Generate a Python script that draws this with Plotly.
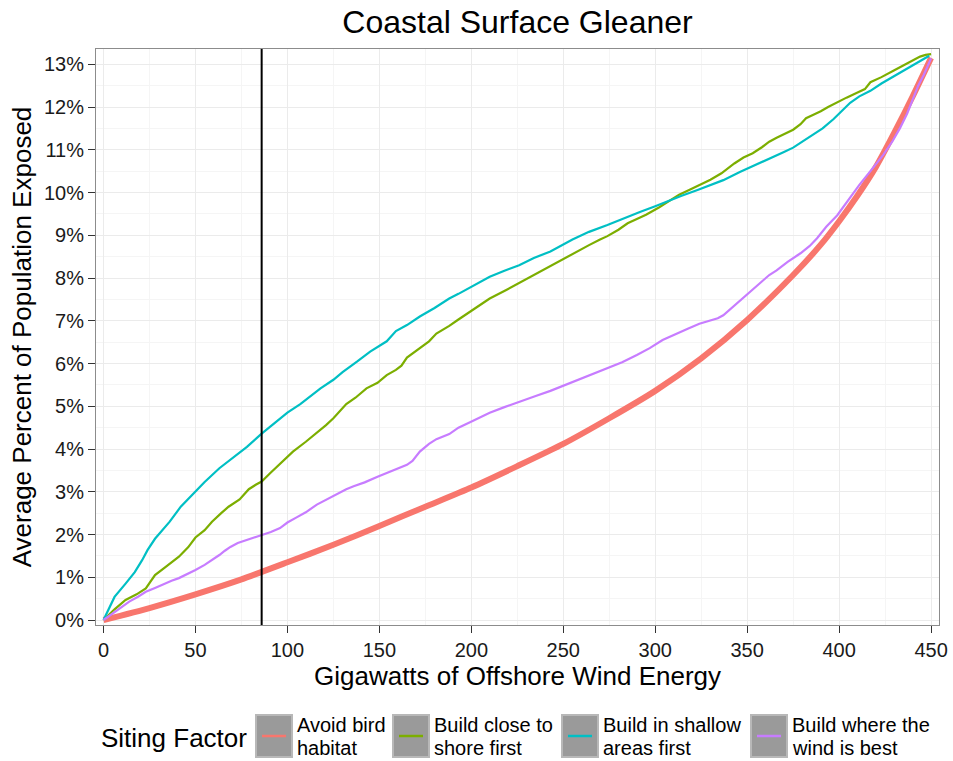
import plotly.graph_objects as go

# ---- data -------------------------------------------------------------
series_names = [
    "Avoid bird\nhabitat",
    "Build close to\nshore first",
    "Build in shallow\nareas first",
    "Build where the\nwind is best",
]

bird_gw = [0, 25, 50, 75, 100, 125, 150, 175, 200, 225, 250, 275, 300, 325,
           350, 375, 390, 400, 410, 420, 430, 440, 450]
bird_pct = [0, 0.28, 0.6, 0.95, 1.35, 1.76, 2.2, 2.65, 3.1, 3.6, 4.12, 4.72,
            5.36, 6.12, 7.02, 8.07, 8.78, 9.33, 9.93, 10.6, 11.4, 12.25, 13.15]

shore_gw = [0, 6, 12, 18, 23, 28, 34, 41, 46, 50, 55, 59, 64, 68, 74, 79, 83,
            86, 91, 96, 103, 110, 116, 121, 125, 132, 137, 143, 149, 154, 159,
            162, 165, 172, 177, 181, 188, 193, 199, 205, 210, 219, 225, 230,
            237, 243, 252, 258, 264, 270, 274, 280, 285, 290, 295, 302, 308,
            313, 319, 325, 330, 336, 339, 343, 348, 353, 358, 362, 366, 371,
            375, 379, 382, 386, 390, 394, 399, 404, 410, 414, 417, 423, 430,
            437, 444, 447, 450]
shore_pct = [0, 0.25, 0.47, 0.6, 0.74, 1.05, 1.25, 1.48, 1.7, 1.93, 2.1, 2.3,
             2.5, 2.65, 2.82, 3.06, 3.17, 3.24, 3.45, 3.66, 3.94, 4.17, 4.38,
             4.56, 4.72, 5.05, 5.2, 5.42, 5.55, 5.73, 5.85, 5.95, 6.14, 6.36,
             6.52, 6.7, 6.88, 7.03, 7.2, 7.38, 7.52, 7.72, 7.86, 7.99, 8.15,
             8.28, 8.5, 8.63, 8.77, 8.9, 8.98, 9.13, 9.28, 9.38, 9.48, 9.65,
             9.82, 9.95, 10.07, 10.2, 10.3, 10.45, 10.55, 10.68, 10.82, 10.92,
             11.06, 11.19, 11.28, 11.38, 11.47, 11.6, 11.74, 11.82, 11.9, 12.0,
             12.12, 12.22, 12.34, 12.42, 12.58, 12.7, 12.86, 13.02, 13.18,
             13.22, 13.24]

shallow_gw = [0, 6, 12, 17, 21, 24, 28, 31, 36, 42, 50, 55, 63, 70, 78, 86,
              93, 100, 107, 113, 118, 125, 130, 138, 145, 154, 159, 165, 172,
              180, 188, 193, 199, 205, 210, 218, 226, 234, 243, 255, 264, 274,
              283, 292, 300, 306, 314, 323, 330, 337, 346, 355, 362, 370, 375,
              381, 386, 391, 397, 402, 406, 411, 417, 423, 430, 435, 440, 445,
              449]
shallow_pct = [0, 0.54, 0.85, 1.12, 1.4, 1.64, 1.9, 2.06, 2.3, 2.65, 3.02,
               3.23, 3.55, 3.78, 4.05, 4.36, 4.6, 4.85, 5.05, 5.25, 5.42, 5.62,
               5.8, 6.05, 6.28, 6.52, 6.76, 6.9, 7.1, 7.3, 7.52, 7.63, 7.77,
               7.93, 8.03, 8.17, 8.3, 8.47, 8.62, 8.9, 9.08, 9.24, 9.4, 9.55,
               9.68, 9.79, 9.92, 10.06, 10.18, 10.29, 10.48, 10.65, 10.8, 10.95,
               11.05, 11.22, 11.35, 11.5, 11.72, 11.92, 12.1, 12.25, 12.38,
               12.55, 12.72, 12.86, 12.98, 13.1, 13.2]

wind_gw = [0, 7, 14, 19, 23, 28, 32, 37, 41, 46, 50, 55, 59, 63, 66, 69, 73,
           78, 82, 86, 91, 96, 100, 105, 110, 116, 121, 127, 132, 136, 142,
           149, 156, 160, 165, 168, 172, 177, 181, 188, 193, 199, 205, 210,
           218, 227, 235, 243, 250, 256, 265, 274, 282, 290, 297, 304, 310,
           318, 324, 330, 334, 337, 341, 346, 351, 357, 362, 366, 372, 379,
           384, 388, 393, 399, 405, 411, 417, 424, 429, 433, 437, 440, 443,
           446, 448, 450]
wind_pct = [0, 0.22, 0.43, 0.55, 0.66, 0.75, 0.83, 0.92, 0.98, 1.08, 1.17,
            1.29, 1.4, 1.52, 1.62, 1.71, 1.8, 1.87, 1.94, 2.0, 2.06, 2.15,
            2.28, 2.4, 2.52, 2.7, 2.81, 2.96, 3.06, 3.13, 3.22, 3.35, 3.47,
            3.55, 3.63, 3.72, 3.94, 4.12, 4.23, 4.35, 4.5, 4.62, 4.75, 4.85,
            4.98, 5.11, 5.24, 5.36, 5.48, 5.58, 5.75, 5.89, 6.03, 6.2, 6.36,
            6.55, 6.67, 6.82, 6.93, 7.0, 7.06, 7.13, 7.28, 7.45, 7.65, 7.88,
            8.07, 8.18, 8.38, 8.58, 8.75, 8.93, 9.2, 9.47, 9.82, 10.18, 10.5,
            10.88, 11.2, 11.5, 11.85, 12.2, 12.5, 12.75, 12.95, 13.14]

cutoff_gw = 86

x_ticks = [0, 50, 100, 150, 200, 250, 300, 350, 400, 450]
y_ticks = list(range(0, 14))

# ---- style ------------------------------------------------------------
colors = ["#F8766D", "#7CAE00", "#00BFC4", "#C77CFF"]
widths = [6, 2.2, 2.2, 2.2]
shapes_ = ["spline", "linear", "linear", "linear"]
FONT = "Liberation Sans, Arial, sans-serif"
W, H = 953, 761
M_L, M_R, M_T, M_B = 96, 14, 49, 136
PW, PH = W - M_L - M_R, H - M_T - M_B

xs = [bird_gw, shore_gw, shallow_gw, wind_gw]
ys = [bird_pct, shore_pct, shallow_pct, wind_pct]

fig = go.Figure()
for name, x, y, c, w, s in zip(series_names, xs, ys, colors, widths, shapes_):
    fig.add_trace(go.Scatter(
        x=x, y=y, mode="lines", name=name.replace("\n", " "),
        line=dict(color=c, width=w, shape=s, smoothing=0.6),
        showlegend=False,
    ))

fig.add_shape(type="line", xref="x", yref="paper", x0=cutoff_gw, x1=cutoff_gw,
              y0=0, y1=1, line=dict(color="black", width=2), layer="above")


def px_to_paper(px, py):
    return (px - M_L) / PW, (H - M_B - py) / PH


# ---- legend drawn below the panel ---------------------------------------
annotations = []
tx, ty = px_to_paper(99, 738)
annotations.append(dict(text="Siting Factor", x=tx, y=ty, xref="paper",
                        yref="paper", xanchor="left", yanchor="middle",
                        showarrow=False, font=dict(size=26, color="black",
                                                   family=FONT)))
key_left = [256, 393, 562, 751]
key_w, key_top, key_bot = 36, 715, 757
for name, c, kl in zip(series_names, colors, key_left):
    x0, y0 = px_to_paper(kl, key_bot)
    x1, y1 = px_to_paper(kl + key_w, key_top)
    fig.add_shape(type="rect", xref="paper", yref="paper", x0=x0, x1=x1,
                  y0=y0, y1=y1, fillcolor="#9a9a9a",
                  line=dict(color="#b8b8b8", width=2), layer="above")
    lx0, ly = px_to_paper(kl + 6, (key_top + key_bot) / 2)
    lx1, _ = px_to_paper(kl + key_w - 6, 0)
    fig.add_shape(type="line", xref="paper", yref="paper", x0=lx0, x1=lx1,
                  y0=ly, y1=ly, line=dict(color=c, width=2.5), layer="above")
    for i, part in enumerate(name.split("\n")):
        ax, ay = px_to_paper(kl + key_w + 3, 725 + i * 23)
        annotations.append(dict(text=part, x=ax, y=ay, xref="paper",
                                yref="paper", xanchor="left",
                                yanchor="middle", showarrow=False,
                                font=dict(size=20, color="black",
                                          family=FONT)))

axis_common = dict(
    showline=True, mirror=True, linecolor="#8c8c8c", linewidth=1,
    ticks="outside", ticklen=7, tickwidth=1, tickcolor="#333333",
    tickfont=dict(size=20, color="#1a1a1a", family=FONT),
    showgrid=True, gridcolor="#EBEBEB", gridwidth=1.4, zeroline=False,
    automargin=False,
)

fig.update_layout(
    width=W, height=H,
    margin=dict(l=M_L, r=M_R, t=M_T, b=M_B),
    paper_bgcolor="white", plot_bgcolor="white",
    font=dict(family=FONT, color="black"),
    title=dict(text="Coastal Surface Gleaner", x=0.5, xref="paper",
               xanchor="center", y=1 - 22 / H, yref="container",
               yanchor="middle", font=dict(size=32, color="black",
                                           family=FONT)),
    xaxis=dict(
        range=[-4.08, 454.3], tickvals=x_ticks,
        ticktext=[str(v) for v in x_ticks],
        minor=dict(dtick=25, tick0=25, showgrid=True, gridcolor="#F5F5F5",
                   gridwidth=1.2, ticks=""),
        title=dict(text="Gigawatts of Offshore Wind Energy", standoff=6,
                   font=dict(size=26, color="black", family=FONT)),
        **axis_common,
    ),
    yaxis=dict(
        range=[-0.117, 13.358], tickvals=y_ticks,
        ticktext=[f"{v}%" for v in y_ticks],
        minor=dict(dtick=0.5, tick0=0.5, showgrid=True, gridcolor="#F5F5F5",
                   gridwidth=1.2, ticks=""),
        title=dict(text="Average Percent of Population Exposed", standoff=4,
                   font=dict(size=26, color="black", family=FONT)),
        **axis_common,
    ),
    annotations=annotations,
)

fig.write_html("out.html")
